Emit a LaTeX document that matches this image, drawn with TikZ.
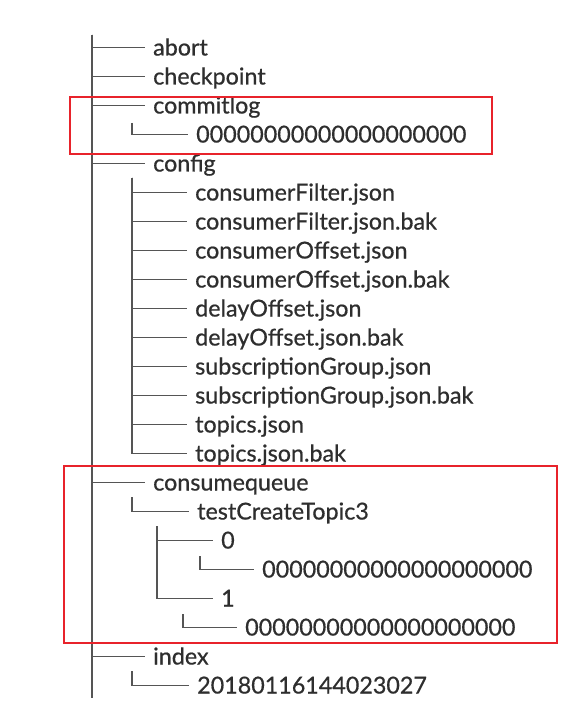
\documentclass[tikz,border=0pt]{standalone}
\usepackage{fontspec}
\setmainfont{Lato}[FakeBold=0.6]
\definecolor{txt}{HTML}{2E2E2E}
\definecolor{ln}{HTML}{555555}
\definecolor{boxred}{HTML}{E8232B}
\begin{document}
\begin{tikzpicture}[x=1pt,y=-1pt,
  entry/.style={anchor=west, inner sep=0pt, text height=16pt, text depth=0pt,
    font=\fontsize{23.3}{23}\selectfont, text=txt},
  conn/.style={draw=ln, line width=1.1pt, shorten >=8pt},
  trunk/.style={draw=ln, line width=1.1pt},
  redbox/.style={draw=boxred, line width=1.5pt}]
\useasboundingbox[fill=white] (0,0) rectangle (580,714);

% level 0 entries
\node[entry] (abort)      at (153,47.5)  {abort};
\node[entry] (checkpoint) at (153,76.5)  {checkpoint};
\node[entry] (commitlog)  at (153,105.5) {commitlog};
\node[entry] (cl0)        at (196,134.5) {00000000000000000000};
\node[entry] (config)     at (153,163.5) {config};
\node[entry] (cf1)  at (195,192.5) {consumerFilter.json};
\node[entry] (cf2)  at (195,221.5) {consumerFilter.json.bak};
\node[entry] (cf3)  at (195,250.5) {consumerOffset.json};
\node[entry] (cf4)  at (195,279.5) {consumerOffset.json.bak};
\node[entry] (cf5)  at (195,308.5) {delayOffset.json};
\node[entry] (cf6)  at (195,337.5) {delayOffset.json.bak};
\node[entry] (cf7)  at (195,366.5) {subscriptionGroup.json};
\node[entry] (cf8)  at (195,395.5) {subscriptionGroup.json.bak};
\node[entry] (cf9)  at (195,424.5) {topics.json};
\node[entry] (cf10) at (195,453.5) {topics.json.bak};
\node[entry] (cq)   at (153,482.5) {consumequeue};
\node[entry] (tct)  at (197,511.5) {testCreateTopic3};
\node[entry] (p0)   at (221,540.5) {0};
\node[entry] (p0f)  at (262,569.5) {00000000000000000000};
\node[entry] (p1)   at (221,598.5) {1};
\node[entry] (p1f)  at (245,627.5) {00000000000000000000};
\node[entry] (index) at (153,656.5) {index};
\node[entry] (idx)   at (197,685.5) {20180116144023027};

% vertical starting points
\coordinate (root)    at (92,35);
\coordinate (rootend) at (92,698);
\coordinate (vcl)  at (132,123);
\coordinate (vcf)  at (132,178);
\coordinate (vcq)  at (132,497);
\coordinate (vtct) at (157,526);
\coordinate (vp0)  at (200,556);
\coordinate (vp1)  at (183,614);
\coordinate (vidx) at (132,671);

\draw[trunk] (root) -- (rootend);
\foreach \n in {abort,checkpoint,commitlog,config,cq,index}
  \draw[conn] (root) |- (\n.west);
\draw[conn] (vcl) |- (cl0.west);
\foreach \n in {cf1,cf2,cf3,cf4,cf5,cf6,cf7,cf8,cf9,cf10}
  \draw[conn] (vcf) |- (\n.west);
\draw[conn] (vcq) |- (tct.west);
\draw[conn] (vtct) |- (p0.west);
\draw[conn] (vtct) |- (p1.west);
\draw[conn] (vp0) |- (p0f.west);
\draw[conn] (vp1) |- (p1f.west);
\draw[conn] (vidx) |- (idx.west);

% highlight boxes
\draw[redbox] (70,97) rectangle (492,154);
\draw[redbox] (64,466) rectangle (557,643);
\end{tikzpicture}
\end{document}
